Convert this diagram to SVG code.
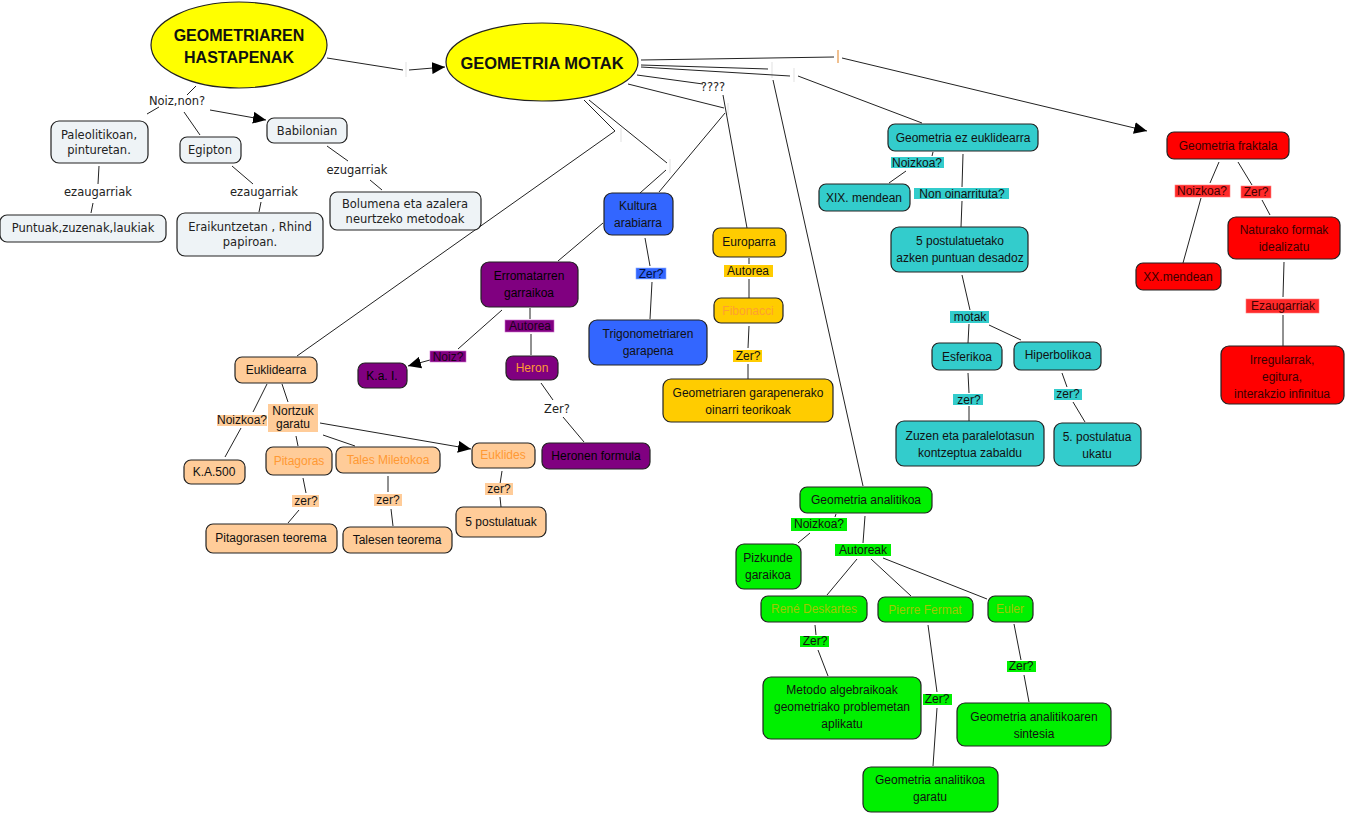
<svg xmlns="http://www.w3.org/2000/svg" width="1347" height="814" viewBox="0 0 1347 814">
<defs>
<marker id="arr" markerUnits="userSpaceOnUse" markerWidth="14" markerHeight="12" refX="13" refY="6" orient="auto">
<path d="M0,0 L13,6 L0,12 z" fill="#000"/>
</marker>
<style>
.c{stroke:#222;stroke-width:1;fill:none}
.tk{stroke:#e6e6e6;stroke-width:1.2}
.n{stroke:#222;stroke-width:1.2}
.g{fill:#eef3f6}
.te{fill:#33cccc}
.rd{fill:#ff0000}
.bl{fill:#3366ff}
.pu{fill:#800080}
.go{fill:#ffcc00}
.pe{fill:#ffcc99}
.gr{fill:#00f000}
text{text-anchor:middle;dominant-baseline:central}
.t{font-family:"Liberation Sans",Arial,sans-serif;font-size:12px;fill:#111}
.v{font-family:"DejaVu Sans",Verdana,sans-serif;font-size:11.5px;fill:#222}
.h{font-family:"Liberation Sans",Arial,sans-serif;font-size:16px;font-weight:bold;fill:#111}
.or{fill:#ff9933}
.ol{fill:#a0c800}
</style>
</defs>
<rect width="1347" height="814" fill="#fff"/>

<g id="connectors">
<line class="c" x1="327" y1="58" x2="403" y2="70"/>
<line class="tk" x1="406" y1="62" x2="406" y2="77"/>
<line class="c" x1="409" y1="70" x2="445" y2="67" marker-end="url(#arr)"/>
<line class="c" x1="196" y1="86" x2="187" y2="95"/>
<line class="c" x1="159" y1="107" x2="147" y2="114"/>
<line class="c" x1="184" y1="112" x2="200" y2="135"/>
<line class="c" x1="210" y1="110" x2="266" y2="120" marker-end="url(#arr)"/>
<line class="c" x1="99" y1="166" x2="98" y2="184"/>
<line class="c" x1="93" y1="203" x2="91" y2="213"/>
<line class="c" x1="232" y1="166" x2="253" y2="184"/>
<line class="c" x1="261" y1="202" x2="259" y2="212"/>
<line class="c" x1="327" y1="146" x2="348" y2="161"/>
<line class="c" x1="370" y1="180" x2="382" y2="190"/>
<line class="c" x1="641" y1="60" x2="834" y2="57"/>
<line x1="838" y1="50" x2="838" y2="63" stroke="#f0c090" stroke-width="2"/>
<line class="c" x1="842" y1="58" x2="1147" y2="131" marker-end="url(#arr)"/>
<line class="c" x1="641" y1="65" x2="768" y2="69"/>
<line class="tk" x1="772" y1="62" x2="772" y2="78"/>
<line class="c" x1="773" y1="80" x2="863" y2="486"/>
<line class="c" x1="641" y1="67" x2="790" y2="76"/>
<line class="tk" x1="794" y1="68" x2="794" y2="82"/>
<line class="c" x1="798" y1="76" x2="922" y2="123"/>
<line class="c" x1="637" y1="75" x2="703" y2="84"/>
<line class="c" x1="723" y1="95" x2="747" y2="228"/>
<line class="c" x1="628" y1="84" x2="724" y2="108"/>
<line class="tk" x1="728" y1="103" x2="728" y2="115"/>
<line class="c" x1="725" y1="113" x2="659" y2="192"/>
<line class="c" x1="584" y1="100" x2="615" y2="131"/>
<line class="tk" x1="621" y1="128" x2="621" y2="142"/>
<line class="c" x1="615" y1="131" x2="297" y2="356"/>
<line class="c" x1="589" y1="100" x2="667" y2="163"/>
<line class="tk" x1="670" y1="159" x2="670" y2="173"/>
<line class="c" x1="666" y1="170" x2="640" y2="193"/>
<line class="c" x1="603" y1="223" x2="558" y2="261"/>
<line class="c" x1="645" y1="238" x2="650" y2="266"/>
<line class="c" x1="652" y1="282" x2="650" y2="319"/>
<line class="c" x1="530" y1="308" x2="530" y2="319"/>
<line class="c" x1="531" y1="334" x2="531" y2="355"/>
<line class="c" x1="502" y1="310" x2="458" y2="349"/>
<line class="c" x1="430" y1="360" x2="408" y2="366" marker-end="url(#arr)"/>
<line class="c" x1="541" y1="383" x2="553" y2="400"/>
<line class="c" x1="563" y1="417" x2="584" y2="442"/>
<line class="c" x1="749" y1="258" x2="749" y2="264"/>
<line class="c" x1="749" y1="279" x2="749" y2="298"/>
<line class="c" x1="749" y1="326" x2="748" y2="348"/>
<line class="c" x1="748" y1="364" x2="748" y2="379"/>
<line class="c" x1="933" y1="152" x2="932" y2="156"/>
<line class="c" x1="906" y1="171" x2="889" y2="183"/>
<line class="c" x1="963" y1="154" x2="962" y2="187"/>
<line class="c" x1="962" y1="201" x2="961" y2="227"/>
<line class="c" x1="962" y1="275" x2="970" y2="310"/>
<line class="c" x1="969" y1="324" x2="968" y2="343"/>
<line class="c" x1="989" y1="325" x2="1021" y2="340"/>
<line class="c" x1="968" y1="373" x2="969" y2="393"/>
<line class="c" x1="969" y1="406" x2="969" y2="421"/>
<line class="c" x1="1062" y1="373" x2="1067" y2="387"/>
<line class="c" x1="1073" y1="402" x2="1085" y2="422"/>
<line class="c" x1="1219" y1="162" x2="1210" y2="183"/>
<line class="c" x1="1201" y1="198" x2="1183" y2="263"/>
<line class="c" x1="1238" y1="162" x2="1252" y2="185"/>
<line class="c" x1="1262" y1="200" x2="1270" y2="215"/>
<line class="c" x1="1284" y1="262" x2="1283" y2="297"/>
<line class="c" x1="1283" y1="315" x2="1283" y2="346"/>
<line class="c" x1="267" y1="384" x2="253" y2="412"/>
<line class="c" x1="241" y1="428" x2="225" y2="457"/>
<line class="c" x1="282" y1="384" x2="288" y2="402"/>
<line class="c" x1="296" y1="436" x2="298" y2="446"/>
<line class="c" x1="323" y1="435" x2="355" y2="446"/>
<line class="c" x1="320" y1="423" x2="471" y2="449" marker-end="url(#arr)"/>
<line class="c" x1="303" y1="478" x2="306" y2="493"/>
<line class="c" x1="299" y1="510" x2="288" y2="523"/>
<line class="c" x1="388" y1="476" x2="388" y2="492"/>
<line class="c" x1="391" y1="509" x2="393" y2="526"/>
<line class="c" x1="502" y1="471" x2="500" y2="484"/>
<line class="c" x1="500" y1="497" x2="501" y2="507"/>
<line class="c" x1="836" y1="514" x2="835" y2="517"/>
<line class="c" x1="810" y1="533" x2="798" y2="543"/>
<line class="c" x1="865" y1="516" x2="863" y2="543"/>
<line class="c" x1="857" y1="559" x2="827" y2="595"/>
<line class="c" x1="871" y1="559" x2="911" y2="596"/>
<line class="c" x1="883" y1="558" x2="987" y2="599"/>
<line class="c" x1="815" y1="625" x2="816" y2="635"/>
<line class="c" x1="818" y1="650" x2="828" y2="676"/>
<line class="c" x1="928" y1="625" x2="937" y2="692"/>
<line class="c" x1="937" y1="708" x2="933" y2="766"/>
<line class="c" x1="1014" y1="624" x2="1021" y2="660"/>
<line class="c" x1="1024" y1="675" x2="1029" y2="702"/>
</g>

<g id="hastapenak"><ellipse cx="239" cy="45" rx="88" ry="43" fill="#ffff00" stroke="#222" stroke-width="1.2"/><text class="h" x="239" y="35">GEOMETRIAREN</text><text class="h" x="239" y="57">HASTAPENAK</text></g>
<g id="motak"><ellipse cx="542" cy="62" rx="96" ry="39" fill="#ffff00" stroke="#222" stroke-width="1.2"/><text class="h" x="542" y="63" style="font-size:16.5px">GEOMETRIA MOTAK</text></g>

<g id="lbl-noiznon"><text class="v" x="177" y="101">Noiz,non?</text></g>
<g id="paleolitikoan"><rect class="n g" x="51" y="121" width="97" height="42" rx="8"/><text class="v" x="99" y="135">Paleolitikoan,</text><text class="v" x="99" y="150">pinturetan.</text></g>
<g id="egipton"><rect class="n g" x="180" y="137" width="61" height="26" rx="7"/><text class="v" x="210" y="150">Egipton</text></g>
<g id="babilonian"><rect class="n g" x="267" y="118" width="80" height="25" rx="7"/><text class="v" x="307" y="131">Babilonian</text></g>
<g id="lbl-ez1"><text class="v" x="98" y="192">ezaugarriak</text></g>
<g id="lbl-ez2"><text class="v" x="264" y="192">ezaugarriak</text></g>
<g id="lbl-ez3"><text class="v" x="357" y="170">ezugarriak</text></g>
<g id="puntuak"><rect class="n g" x="0" y="215" width="166" height="27" rx="7"/><text class="v" x="83" y="228">Puntuak,zuzenak,laukiak</text></g>
<g id="eraikuntzetan"><rect class="n g" x="177" y="213" width="146" height="43" rx="8"/><text class="v" x="250" y="227">Eraikuntzetan , Rhind</text><text class="v" x="250" y="242">papiroan.</text></g>
<g id="bolumena"><rect class="n g" x="330" y="192" width="151" height="38" rx="7"/><text class="v" x="405" y="204">Bolumena eta azalera</text><text class="v" x="405" y="219">neurtzeko metodoak</text></g>

<g id="lbl-q"><text class="v" x="713" y="87">????</text></g>

<g id="ezeuklidearra"><rect class="n te" x="888" y="124" width="150" height="27" rx="7"/><text class="t" x="963" y="138">Geometria ez euklidearra</text></g>
<g id="lbl-noizkoa-te"><rect class="te" x="891" y="157" width="53" height="11"/><text class="t" x="917" y="163">Noizkoa?</text></g>
<g id="xix"><rect class="n te" x="819" y="184" width="91" height="27" rx="7"/><text class="t" x="864" y="198">XIX. mendean</text></g>
<g id="lbl-non"><rect class="te" x="914" y="188" width="95" height="11"/><text class="t" x="962" y="194">Non oinarrituta?</text></g>
<g id="postulatuetako"><rect class="n te" x="891" y="227" width="137" height="45" rx="8"/><text class="t" x="960" y="241">5 postulatuetako</text><text class="t" x="960" y="258">azken puntuan desadoz</text></g>
<g id="lbl-motak"><rect class="te" x="950" y="311" width="39" height="12"/><text class="t" x="970" y="317">motak</text></g>
<g id="esferikoa"><rect class="n te" x="932" y="343" width="70" height="27" rx="7"/><text class="t" x="967" y="357">Esferikoa</text></g>
<g id="hiperbolikoa"><rect class="n te" x="1014" y="342" width="87" height="28" rx="7"/><text class="t" x="1058" y="355">Hiperbolikoa</text></g>
<g id="lbl-zer-esf"><rect class="te" x="953" y="394" width="30" height="11"/><text class="t" x="969" y="400">zer?</text></g>
<g id="lbl-zer-hip"><rect class="te" x="1054" y="389" width="28" height="11"/><text class="t" x="1068" y="394">zer?</text></g>
<g id="zuzen"><rect class="n te" x="896" y="421" width="148" height="45" rx="8"/><text class="t" x="970" y="436">Zuzen eta paralelotasun</text><text class="t" x="970" y="453">kontzeptua zabaldu</text></g>
<g id="postulatua"><rect class="n te" x="1054" y="423" width="87" height="43" rx="8"/><text class="t" x="1097" y="437">5. postulatua</text><text class="t" x="1097" y="454">ukatu</text></g>

<g id="fraktala"><rect class="n rd" x="1167" y="132" width="122" height="27" rx="7"/><text class="t" x="1228" y="146" style="fill:#3a0000">Geometria fraktala</text></g>
<g id="lbl-noizkoa-rd"><rect x="1175" y="185" width="55" height="12" fill="#ff2a2a" stroke="#ff8080" stroke-width="0.6"/><text class="t" x="1202" y="191" style="fill:#400000">Noizkoa?</text></g>
<g id="lbl-zer-rd"><rect x="1241" y="186" width="30" height="12" fill="#ff2a2a" stroke="#ff8080" stroke-width="0.6"/><text class="t" x="1256" y="192" style="fill:#400000">Zer?</text></g>
<g id="xx"><rect class="n rd" x="1136" y="263" width="85" height="27" rx="7"/><text class="t" x="1178" y="277" style="fill:#3a0000">XX.mendean</text></g>
<g id="naturako"><rect class="n rd" x="1228" y="217" width="112" height="42" rx="8"/><text class="t" x="1284" y="230" style="fill:#3a0000">Naturako formak</text><text class="t" x="1284" y="247" style="fill:#3a0000">idealizatu</text></g>
<g id="lbl-ezaugarriak-rd"><rect x="1246" y="299" width="73" height="14" fill="#ff2a2a" stroke="#ff8080" stroke-width="0.6"/><text class="t" x="1283" y="306" style="fill:#400000">Ezaugarriak</text></g>
<g id="irregularrak"><rect class="n rd" x="1221" y="346" width="123" height="58" rx="8"/><text class="t" x="1282" y="360" style="fill:#3a0000">Irregularrak,</text><text class="t" x="1282" y="377" style="fill:#3a0000">egitura,</text><text class="t" x="1282" y="394" style="fill:#3a0000">interakzio infinitua</text></g>

<g id="kultura"><rect class="n bl" x="604" y="193" width="69" height="42" rx="8"/><text class="t" x="638" y="206">Kultura</text><text class="t" x="638" y="223">arabiarra</text></g>
<g id="lbl-zer-bl"><rect x="636" y="268" width="30" height="11" fill="#3366ff" stroke="#88aaff" stroke-width="0.6"/><text class="t" x="651" y="274" style="fill:#001040">Zer?</text></g>
<g id="trigonometria"><rect class="n bl" x="589" y="320" width="118" height="45" rx="8"/><text class="t" x="648" y="334">Trigonometriaren</text><text class="t" x="648" y="351">garapena</text></g>

<g id="erromatarren"><rect class="n pu" x="481" y="262" width="97" height="45" rx="8"/><text class="t" x="529" y="276" style="fill:#000">Erromatarren</text><text class="t" x="529" y="293" style="fill:#000">garraikoa</text></g>
<g id="lbl-autorea-pu"><rect x="505" y="320" width="49" height="12" fill="#800080" stroke="#d070d0" stroke-width="0.6"/><text class="t" x="530" y="326" style="fill:#1a001a">Autorea</text></g>
<g id="heron"><rect class="n pu" x="506" y="356" width="52" height="24" rx="7"/><text class="t or" x="532" y="368">Heron</text></g>
<g id="lbl-zer-heron"><text class="v" x="557" y="409">Zer?</text></g>
<g id="heronen"><rect class="n pu" x="542" y="443" width="108" height="26" rx="7"/><text class="t" x="596" y="456" style="fill:#000">Heronen formula</text></g>
<g id="lbl-noiz-pu"><rect x="430" y="351" width="36" height="11" fill="#800080" stroke="#d070d0" stroke-width="0.6"/><text class="t" x="448" y="357" style="fill:#1a001a">Noiz?</text></g>
<g id="kai"><rect class="n pu" x="358" y="363" width="49" height="25" rx="7"/><text class="t" x="382" y="376" style="fill:#000">K.a. I.</text></g>

<g id="europarra"><rect class="n go" x="713" y="228" width="73" height="29" rx="7"/><text class="t" x="749" y="242">Europarra</text></g>
<g id="lbl-autorea-go"><rect class="go" x="724" y="265" width="49" height="12"/><text class="t" x="748" y="271">Autorea</text></g>
<g id="fibonacci"><rect class="n go" x="714" y="298" width="69" height="25" rx="7"/><text class="t" x="748" y="311" style="fill:#ffa030">Fibonacci</text></g>
<g id="lbl-zer-go"><rect class="go" x="733" y="350" width="29" height="12"/><text class="t" x="748" y="356">Zer?</text></g>
<g id="oinarri"><rect class="n go" x="663" y="379" width="170" height="43" rx="8"/><text class="t" x="748" y="393">Geometriaren garapenerako</text><text class="t" x="748" y="410">oinarri teorikoak</text></g>

<g id="euklidearra"><rect class="n pe" x="235" y="357" width="82" height="26" rx="7"/><text class="t" x="276" y="370">Euklidearra</text></g>
<g id="lbl-noizkoa-pe"><rect class="pe" x="217" y="415" width="50" height="11"/><text class="t" x="242" y="420">Noizkoa?</text></g>
<g id="lbl-nortzuk"><rect class="pe" x="268" y="404" width="50" height="28"/><text class="t" x="293" y="411">Nortzuk</text><text class="t" x="293" y="424">garatu</text></g>
<g id="ka500"><rect class="n pe" x="184" y="460" width="61" height="24" rx="7"/><text class="t" x="214" y="472">K.A.500</text></g>
<g id="pitagoras"><rect class="n pe" x="266" y="447" width="66" height="28" rx="7"/><text class="t or" x="299" y="461">Pitagoras</text></g>
<g id="tales"><rect class="n pe" x="336" y="447" width="104" height="26" rx="7"/><text class="t or" x="388" y="460">Tales Miletokoa</text></g>
<g id="euklides"><rect class="n pe" x="472" y="443" width="63" height="25" rx="7"/><text class="t or" x="503" y="455">Euklides</text></g>
<g id="lbl-zer-pit"><rect class="pe" x="292" y="495" width="27" height="12"/><text class="t" x="306" y="501">zer?</text></g>
<g id="lbl-zer-tal"><rect class="pe" x="374" y="494" width="28" height="12"/><text class="t" x="388" y="500">zer?</text></g>
<g id="lbl-zer-euk"><rect class="pe" x="485" y="483" width="28" height="12"/><text class="t" x="499" y="489">zer?</text></g>
<g id="pitagorasen"><rect class="n pe" x="206" y="524" width="131" height="29" rx="7"/><text class="t" x="271" y="538">Pitagorasen teorema</text></g>
<g id="talesen"><rect class="n pe" x="343" y="527" width="109" height="26" rx="7"/><text class="t" x="397" y="540">Talesen teorema</text></g>
<g id="postulatuak"><rect class="n pe" x="456" y="507" width="90" height="30" rx="7"/><text class="t" x="501" y="522">5 postulatuak</text></g>

<g id="analitikoa"><rect class="n gr" x="800" y="487" width="132" height="26" rx="7"/><text class="t" x="866" y="500">Geometria analitikoa</text></g>
<g id="lbl-noizkoa-gr"><rect class="gr" x="791" y="518" width="56" height="13"/><text class="t" x="819" y="524">Noizkoa?</text></g>
<g id="pizkunde"><rect class="n gr" x="736" y="544" width="65" height="45" rx="8"/><text class="t" x="768" y="558">Pizkunde</text><text class="t" x="768" y="575">garaikoa</text></g>
<g id="lbl-autoreak"><rect class="gr" x="835" y="544" width="56" height="12"/><text class="t" x="863" y="550">Autoreak</text></g>
<g id="rene"><rect class="n gr" x="761" y="596" width="106" height="26" rx="7"/><text class="t ol" x="814" y="609">René Deskartes</text></g>
<g id="pierre"><rect class="n gr" x="878" y="597" width="95" height="25" rx="7"/><text class="t ol" x="925" y="610">Pierre Fermat</text></g>
<g id="euler"><rect class="n gr" x="988" y="596" width="45" height="26" rx="7"/><text class="t ol" x="1010" y="609">Euler</text></g>
<g id="lbl-zer-rene"><rect class="gr" x="800" y="636" width="29" height="11"/><text class="t" x="815" y="641">Zer?</text></g>
<g id="lbl-zer-pierre"><rect class="gr" x="923" y="694" width="29" height="11"/><text class="t" x="937" y="699">Zer?</text></g>
<g id="lbl-zer-euler"><rect class="gr" x="1007" y="661" width="29" height="11"/><text class="t" x="1021" y="666">Zer?</text></g>
<g id="metodo"><rect class="n gr" x="763" y="677" width="158" height="62" rx="8"/><text class="t" x="842" y="690">Metodo algebraikoak</text><text class="t" x="842" y="707">geometriako problemetan</text><text class="t" x="842" y="724">aplikatu</text></g>
<g id="garatu"><rect class="n gr" x="863" y="767" width="135" height="45" rx="8"/><text class="t" x="930" y="780">Geometria analitikoa</text><text class="t" x="930" y="797">garatu</text></g>
<g id="sintesia"><rect class="n gr" x="957" y="703" width="154" height="43" rx="8"/><text class="t" x="1034" y="717">Geometria analitikoaren</text><text class="t" x="1034" y="734">sintesia</text></g>
</svg>
